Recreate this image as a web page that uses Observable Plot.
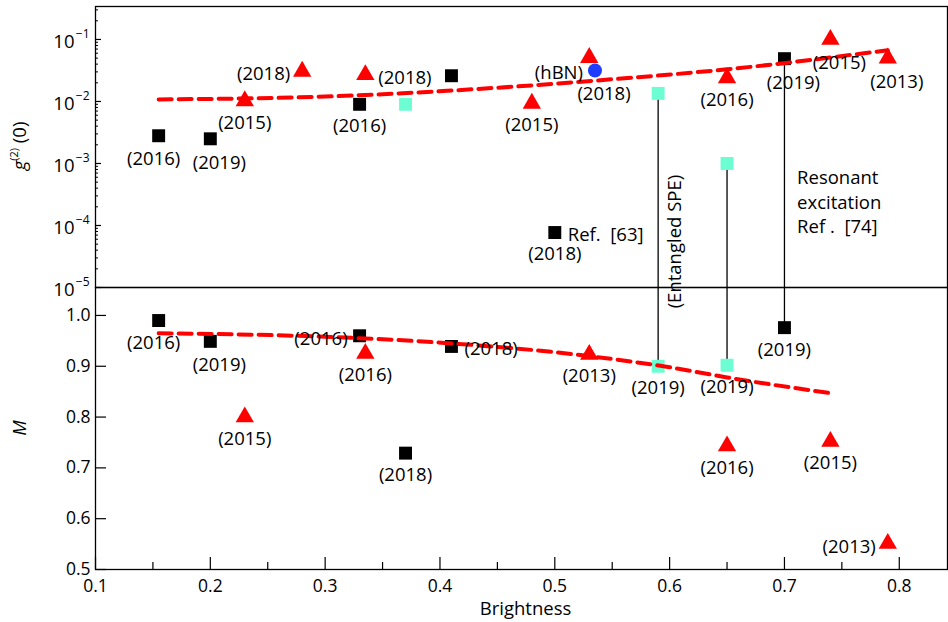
<!DOCTYPE html>
<html><head><meta charset="utf-8">
<script src="https://cdn.jsdelivr.net/npm/d3@7"></script>
<script src="https://cdn.jsdelivr.net/npm/@observablehq/plot@0.6"></script>
<style>
body{margin:0;background:#fff;}
#chart{position:relative;width:948px;height:622px;font-family:"Open Sans",sans-serif;}
#top{position:absolute;left:0;top:0;z-index:2}
#bottom{position:absolute;left:0;top:287px;z-index:1}
svg{overflow:visible}
</style></head><body><div id="chart"><div id="top"></div><div id="bottom"></div></div>
<script>
// ---------- axis ticks ----------
const xTicks = [0.1, 0.2, 0.3, 0.4, 0.5, 0.6, 0.7, 0.8];
const xMinorTicks = [0.15, 0.25, 0.35, 0.45, 0.55, 0.65, 0.75];
const g2Ticks = [1e-5, 1e-4, 1e-3, 1e-2, 1e-1];
const g2Exponents = ["−5", "−4", "−3", "−2", "−1"];
const g2MinorTicks = [];
for (const d of [1e-5, 1e-4, 1e-3, 1e-2, 1e-1]) for (let k = 2; k <= 9; k++) if (k * d < 0.34) g2MinorTicks.push(k * d);
const mTicks = [0.5, 0.6, 0.7, 0.8, 0.9, 1.0];

// ---------- top panel: g(2)(0) vs brightness ----------
const g2Squares = [
  {b: 0.155, g: 0.0028, year: "(2016)", pos: "belowLeft"},
  {b: 0.2, g: 0.0025, year: "(2019)", pos: "belowRight"},
  {b: 0.33, g: 0.009, year: "(2016)", pos: "below"},
  {b: 0.41, g: 0.026, year: null, pos: null},
  {b: 0.5, g: 0.000077, year: "(2018)", pos: "below"},
  {b: 0.7, g: 0.049, year: "(2019)", pos: "belowRight"}
];
const g2Cyan = [
  {b: 0.37, g: 0.009},
  {b: 0.59, g: 0.0135},
  {b: 0.65, g: 0.001}
];
const g2Triangles = [
  {b: 0.23, g: 0.0102, year: "(2015)", pos: "below"},
  {b: 0.28, g: 0.0305, year: "(2018)", pos: "left"},
  {b: 0.335, g: 0.027, year: "(2018)", pos: "right"},
  {b: 0.48, g: 0.0093, year: "(2015)", pos: "below"},
  {b: 0.53, g: 0.051, year: null, pos: null},
  {b: 0.65, g: 0.024, year: "(2016)", pos: "below"},
  {b: 0.74, g: 0.1, year: "(2015)", pos: "belowRight"},
  {b: 0.79, g: 0.05, year: "(2013)", pos: "belowRight"}
];
const g2Circle = [
  {b: 0.535, g: 0.0316, year: "(2018)", pos: "belowRight"}
];
const g2Notes = [
  {b: 0.5, g: 0.000077, text: "Ref.  [63]", pos: "right"},
  {b: 0.535, g: 0.0316, text: "(hBN)", pos: "left"}
];
const g2Trend = [
  {b: 0.155, g: 0.0108}, {b: 0.30, g: 0.012}, {b: 0.41, g: 0.015},
  {b: 0.55, g: 0.0228}, {b: 0.65, g: 0.033}, {b: 0.79, g: 0.067}
];
const resonantNote = [{b: 0.711, g: 0.000248, text: "Resonant\nexcitation\nRef .  [74]"}];
const entangledNote = [{b: 0.605, g: 0.000055, text: "(Entangled SPE)"}];

// ---------- bottom panel: M vs brightness ----------
const mSquares = [
  {b: 0.155, m: 0.99, year: "(2016)", pos: "belowLeft"},
  {b: 0.2, m: 0.949, year: "(2019)", pos: "belowRight"},
  {b: 0.33, m: 0.96, year: "(2016)", pos: "left"},
  {b: 0.41, m: 0.939, year: "(2018)", pos: "right"},
  {b: 0.37, m: 0.729, year: "(2018)", pos: "below"},
  {b: 0.7, m: 0.976, year: "(2019)", pos: "below"}
];
const mCyan = [
  {b: 0.59, m: 0.9, year: "(2019)", pos: "below"},
  {b: 0.65, m: 0.902, year: "(2019)", pos: "below"}
];
const mTriangles = [
  {b: 0.23, m: 0.80, year: "(2015)", pos: "below"},
  {b: 0.335, m: 0.925, year: "(2016)", pos: "below"},
  {b: 0.53, m: 0.923, year: "(2013)", pos: "below"},
  {b: 0.65, m: 0.743, year: "(2016)", pos: "below"},
  {b: 0.74, m: 0.752, year: "(2015)", pos: "below"},
  {b: 0.79, m: 0.551, year: "(2013)", pos: "left"}
];
const mTrend = [
  {b: 0.155, m: 0.965}, {b: 0.30, m: 0.958}, {b: 0.41, m: 0.945}, {b: 0.53, m: 0.92},
  {b: 0.60, m: 0.898}, {b: 0.65, m: 0.878}, {b: 0.74, m: 0.847}
];

// vertical connectors linking the same emitter in both panels
const connectors = [
  {b: 0.59, g: 0.0135, m: 0.9},
  {b: 0.65, g: 0.001, m: 0.902},
  {b: 0.7, g: 0.049, m: 0.976}
];

// ---------- styling ----------
const W = 948, ML = 95, MR = 1;
const xDomain = [0.1, 0.842];
const g2Domain = [1e-5, 0.34];
const mDomain = [0.5, 1.055];
const RED = "#ff0000", CYAN = "#6dfdd2", BLUE = "#1f3dff";
const FONT = 18.5;
const TICKFONT = 17.5;
const offsets = {
  below: {dx: 0, dy: 22, anchor: "middle"},
  belowLeft: {dx: -5, dy: 23, anchor: "middle"},
  belowRight: {dx: 9, dy: 24, anchor: "middle"},
  left: {dx: -12, dy: 3, anchor: "end"},
  right: {dx: 13, dy: 3, anchor: "start"}
};
function labelMarks(data, yKey, textKey) {
  const out = [];
  for (const [pos, o] of Object.entries(offsets)) {
    out.push(Plot.text(data.filter(d => d.pos === pos && d[textKey]), {
      x: "b", y: yKey, text: textKey, dx: o.dx, dy: o.dy, textAnchor: o.anchor, fill: "black", fontSize: FONT
    }));
  }
  return out;
}
const style = {fontFamily: "'Open Sans', sans-serif", fontSize: FONT + "px", background: "transparent", overflow: "visible", color: "black"};

const topPlot = Plot.plot({
  width: W, height: 287, marginTop: 6, marginBottom: 0, marginLeft: ML, marginRight: MR,
  style,
  x: {domain: xDomain, axis: null},
  y: {type: "log", domain: g2Domain, axis: null},
  marks: [
    Plot.ruleX(connectors, {x: "b", y1: "g", y2: g2Domain[0], stroke: "black", strokeWidth: 1.3}),
    Plot.axisY({ticks: g2Ticks, tickSize: -6, fill: "none", label: null, strokeWidth: 1.2}),
    Plot.axisY({ticks: g2MinorTicks, tickSize: -3, fill: "none", label: null}),
    Plot.text(g2Ticks, {x: xDomain[0], y: d => d, text: () => "10", textAnchor: "end", dx: -21, dy: 3, fontSize: FONT}),
    Plot.text(g2Ticks.map((t, i) => ({t, e: g2Exponents[i]})), {x: xDomain[0], y: "t", text: "e", textAnchor: "end", dx: -6, dy: -5, fontSize: 12}),
    Plot.dot(g2Cyan, {x: "b", y: "g", symbol: "square", r: 7.3, fill: CYAN, stroke: "none"}),
    Plot.dot(g2Squares, {x: "b", y: "g", symbol: "square", r: 7.3, fill: "black", stroke: "none"}),
    Plot.dot(g2Triangles, {x: "b", y: "g", symbol: "triangle", r: 6.8, fill: RED, stroke: "none"}),
    Plot.dot(g2Circle, {x: "b", y: "g", symbol: "circle", r: 7, fill: BLUE, stroke: "none"}),
    Plot.line(g2Trend, {x: "b", y: "g", stroke: RED, strokeWidth: 4, strokeDasharray: "13,7", curve: "monotone-x"}),
    ...labelMarks(g2Squares, "g", "year"),
    ...labelMarks(g2Triangles, "g", "year"),
    ...labelMarks(g2Circle, "g", "year"),
    ...labelMarks(g2Notes, "g", "text"),
    Plot.text(resonantNote, {x: "b", y: "g", text: "text", textAnchor: "start", lineHeight: 1.33, fontSize: FONT}),
    Plot.text(entangledNote, {x: "b", y: "g", text: "text", rotate: -90, textAnchor: "middle", fontSize: FONT}),
    Plot.frame({stroke: "black", strokeWidth: 1.3})
  ]
});
d3.select(topPlot).append("text")
  .attr("transform", "translate(26,146) rotate(-90)")
  .attr("text-anchor", "middle").attr("font-size", FONT).attr("fill", "black")
  .call(t => {
    t.append("tspan").attr("font-style", "italic").text("g");
    t.append("tspan").attr("font-size", 11).attr("dy", -8).text("(2)");
    t.append("tspan").attr("dy", 8).text(" (0)");
  });
document.getElementById("top").append(topPlot);

const bottomPlot = Plot.plot({
  width: W, height: 335, marginTop: 0, marginBottom: 53, marginLeft: ML, marginRight: MR,
  style,
  x: {domain: xDomain, axis: null},
  y: {domain: mDomain, axis: null},
  marks: [
    Plot.ruleX(connectors, {x: "b", y1: "m", y2: mDomain[1], stroke: "black", strokeWidth: 1.3}),
    Plot.axisY({ticks: mTicks, tickSize: -11, tickFormat: ".1f", label: null, strokeWidth: 1.2, tickPadding: 16, fontSize: TICKFONT}),
    Plot.axisX({ticks: xTicks, tickSize: -12, tickFormat: ".1f", label: null, strokeWidth: 1.2, tickPadding: 22, fontSize: TICKFONT}),
    Plot.axisX({ticks: xMinorTicks, tickSize: -7, fill: "none", label: null, strokeWidth: 1.2}),
    Plot.text(["Brightness"], {frameAnchor: "bottom", dy: 45, dx: 4, fontSize: FONT}),
    Plot.dot(mCyan, {x: "b", y: "m", symbol: "square", r: 7.3, fill: CYAN, stroke: "none"}),
    Plot.dot(mSquares, {x: "b", y: "m", symbol: "square", r: 7.3, fill: "black", stroke: "none"}),
    Plot.dot(mTriangles, {x: "b", y: "m", symbol: "triangle", r: 6.8, fill: RED, stroke: "none"}),
    Plot.line(mTrend, {x: "b", y: "m", stroke: RED, strokeWidth: 4, strokeDasharray: "13,7", curve: "monotone-x"}),
    ...labelMarks(mSquares, "m", "year"),
    ...labelMarks(mCyan, "m", "year"),
    ...labelMarks(mTriangles, "m", "year"),
    Plot.frame({stroke: "black", strokeWidth: 1.3})
  ]
});
d3.select(bottomPlot).append("text")
  .attr("transform", "translate(26,141) rotate(-90)")
  .attr("text-anchor", "middle").attr("font-size", FONT).attr("font-style", "italic").attr("fill", "black")
  .text("M");
document.getElementById("bottom").append(bottomPlot);
</script>
</body></html>
